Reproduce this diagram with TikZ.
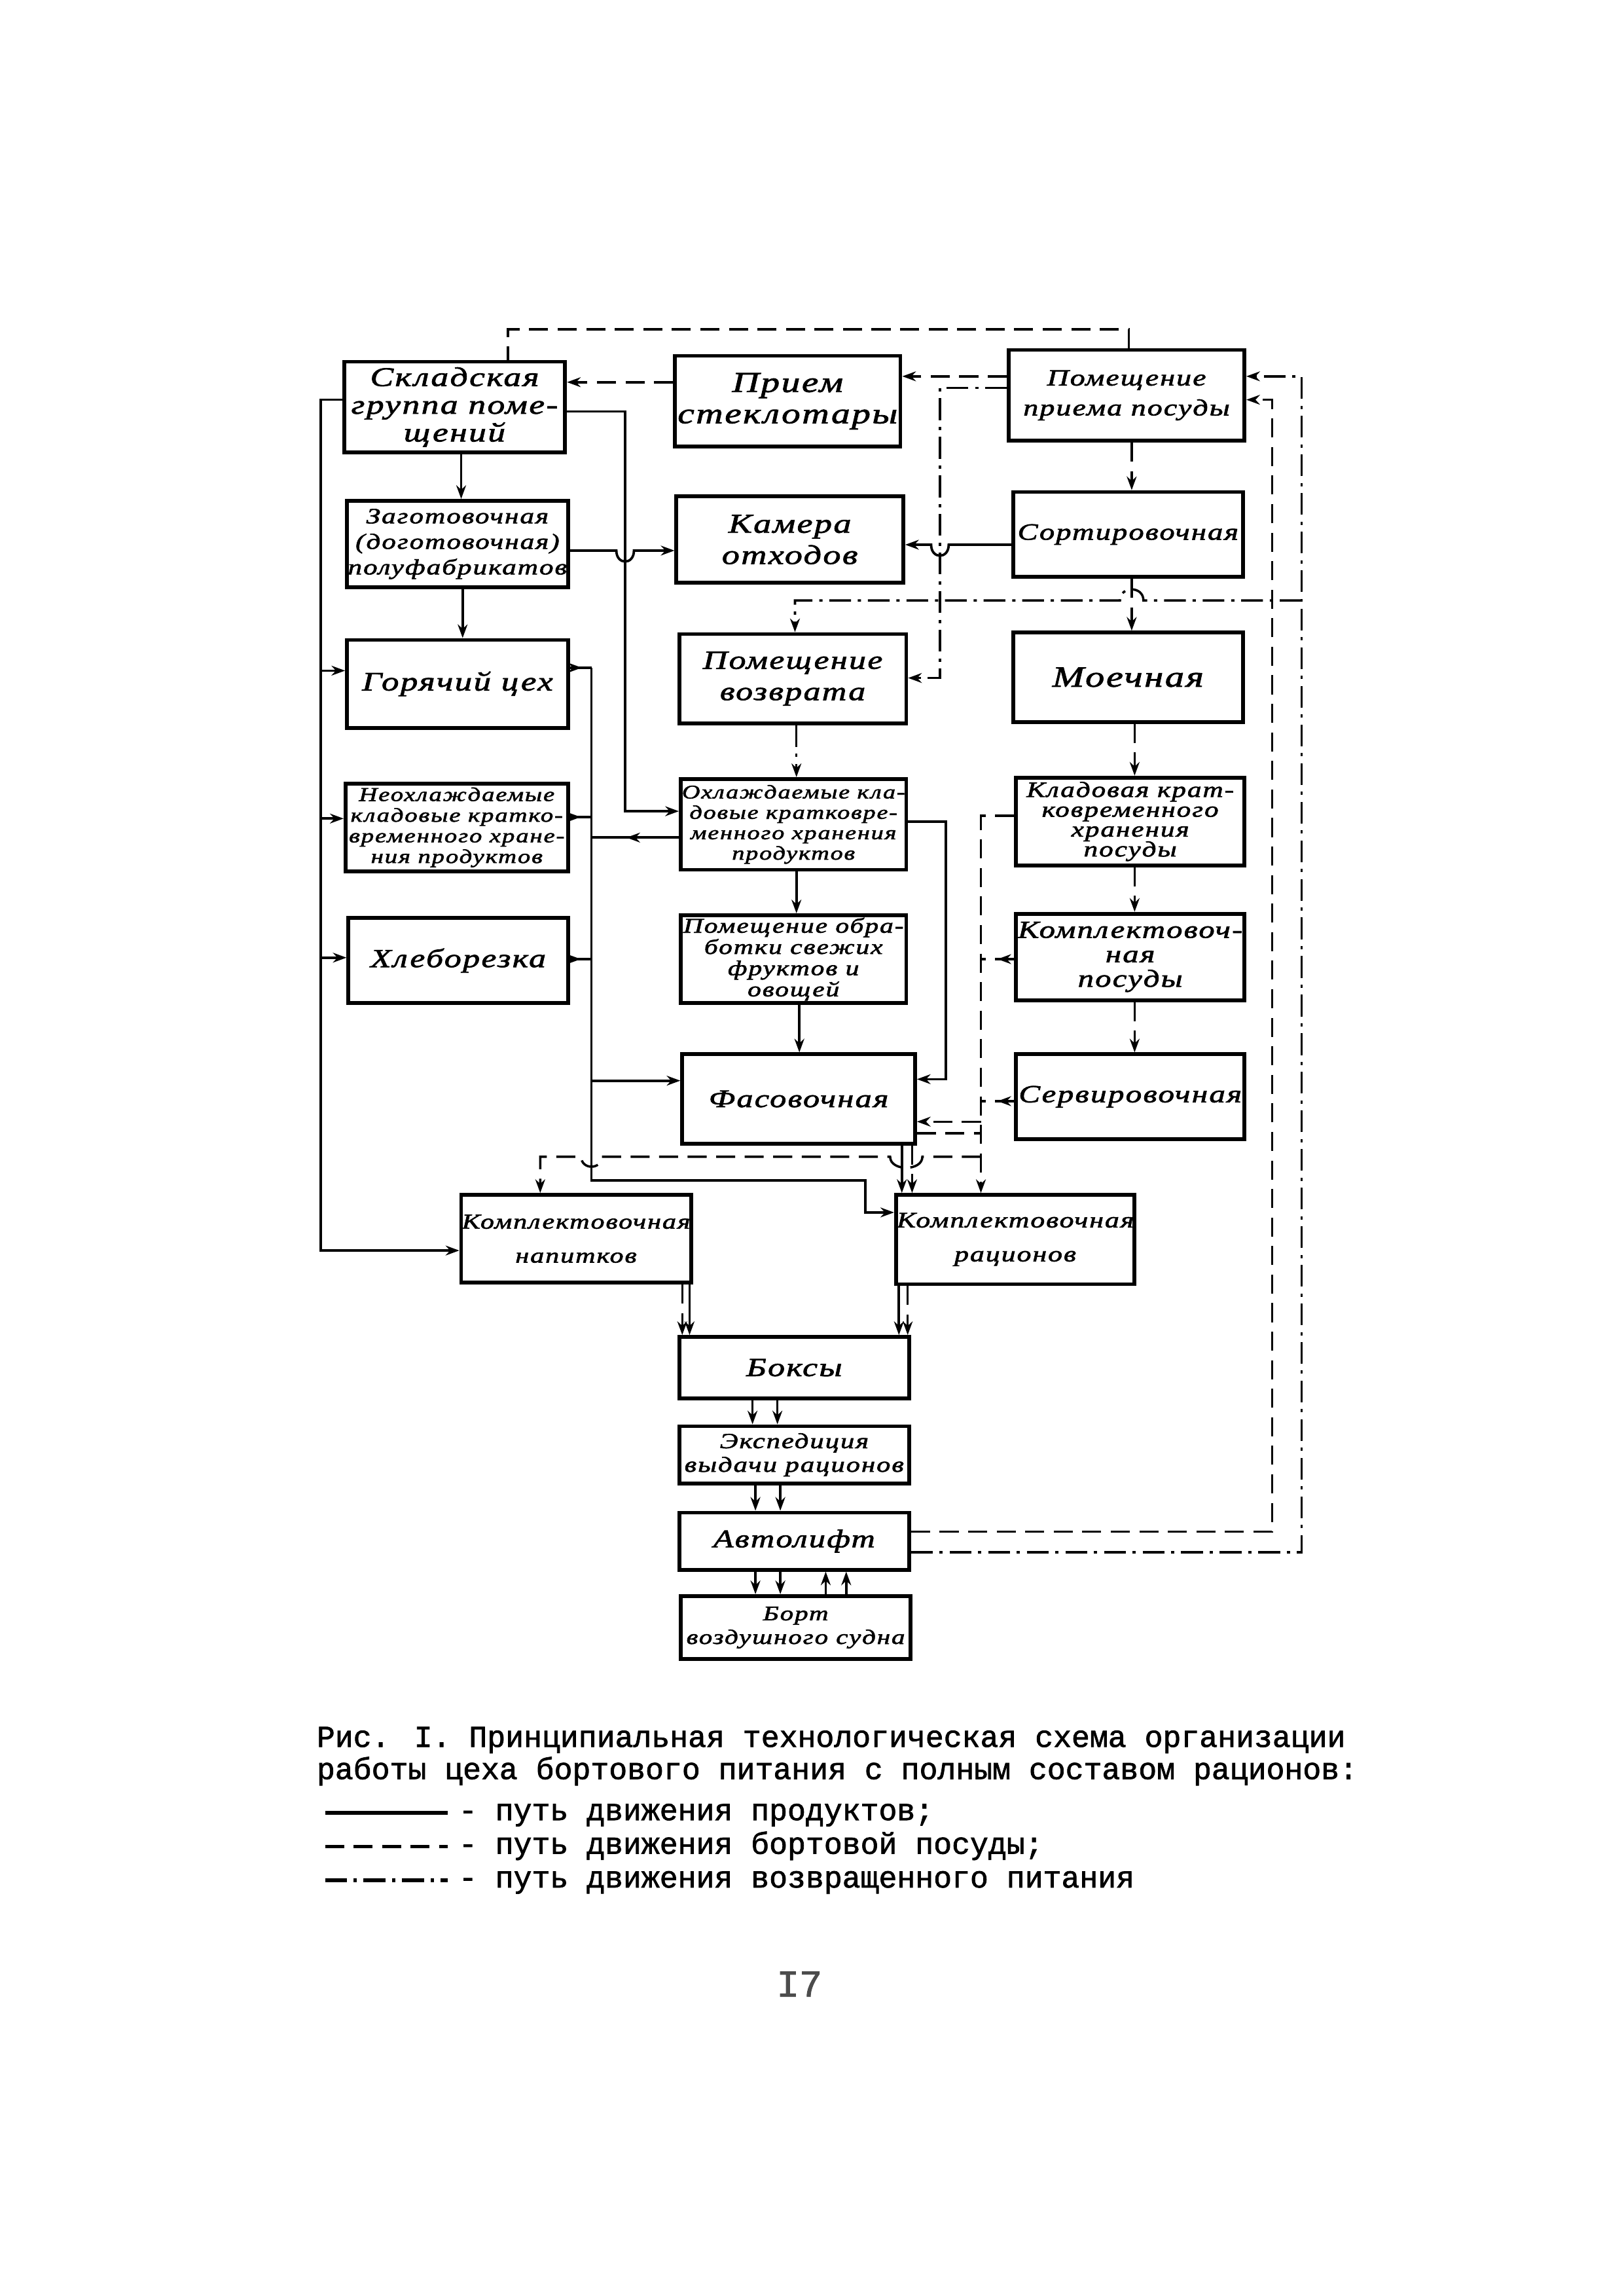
\documentclass[tikz,border=0pt]{standalone}
\usepackage{fontspec}
\usetikzlibrary{arrows.meta,decorations.markings}
\newfontfamily\hand[FakeStretch=1.3,LetterSpace=6,FakeBold=2]{Liberation Serif}
\newfontfamily\tw[FakeBold=1.6]{Liberation Mono}
\def\pxu{0.018936cm}
\tikzset{
  bx/.style={draw, line width=1.4pt, inner sep=0pt},
  prod/.style={line width=0.9pt},
  dsh/.style={line width=0.85pt, dash pattern=on 7pt off 3.5pt},
  ddot/.style={line width=0.85pt, dash pattern=on 8pt off 2.5pt on 1.2pt off 2.5pt},
  arw/.style={-{Stealth[length=5pt,width=3.6pt]}},
  ma/.style={postaction={decorate,decoration={markings,mark=at position #1 with {\arrow{Stealth[length=5pt,width=3.6pt]}}}}},
  capt/.style={anchor=base west, inner sep=0pt, font=\tw\fontsize{11.2}{12}\selectfont}
}
\newcommand{\flowbox}[8]{%
  \node[bx, minimum width={(#4-#2)*\pxu}, minimum height={(#5-#3)*\pxu}] (#1) at ({(#2+#4)/2},{(#3+#5)/2}) {};
  \node[inner sep=0pt, align=center, font=\hand\itshape\fontsize{#6}{#7}\selectfont] (#1t) at (#1.center) {#8};}
\begin{document}
\begin{tikzpicture}[x=0.018936cm, y=-0.018936cm]
\fill[white] (0,0) rectangle (1109,1568);
\useasboundingbox (0,0) rectangle (1109,1568);

% ---------- boxes ----------
\flowbox{skl}{235}{247}{386}{309}{9.9}{10.2}{Складская\\группа поме-\\щений}
\flowbox{zag}{237}{342}{388}{401}{8}{9.4}{Заготовочная\\(доготовочная)\\полуфабрикатов}
\flowbox{gor}{237}{437}{388}{497}{9.8}{12}{Горячий цех}
\flowbox{neo}{236}{535}{388}{595}{7.2}{7.6}{Неохлаждаемые\\кладовые кратко-\\временного хране-\\ния продуктов}
\flowbox{hle}{238}{627}{388}{685}{9.6}{12}{Хлеборезка}
\flowbox{pri}{461}{243}{615}{305}{10.6}{11.5}{Прием\\стеклотары}
\flowbox{kam}{462}{339}{617}{398}{10}{11.5}{Камера\\отходов}
\flowbox{vozv}{464}{433}{619}{494}{9.6}{11.5}{Помещение\\возврата}
\flowbox{ohl}{465}{532}{619}{594}{7.1}{7.5}{Охлаждаемые кла-\\довые кратковре-\\менного хранения\\продуктов}
\flowbox{obr}{465}{625}{619}{685}{7.7}{7.8}{Помещение обра-\\ботки свежих\\фруктов и\\овощей}
\flowbox{fas}{466}{720}{625}{781}{9.3}{12}{Фасовочная}
\flowbox{ppos}{689}{239}{850}{301}{8.5}{11}{Помещение\\приема посуды}
\flowbox{sort}{692}{336}{849}{394}{8.6}{12}{Сортировочная}
\flowbox{moech}{692}{432}{849}{493}{10.8}{12}{Моечная}
\flowbox{klad}{694}{531}{850}{591}{8}{7.3}{Кладовая крат-\\ковременного\\хранения\\посуды}
\flowbox{kpos}{694}{624}{850}{683}{9}{9}{Комплектовоч-\\ная\\посуды}
\flowbox{serv}{694}{720}{850}{778}{9.1}{12}{Сервировочная}
\flowbox{knap}{315}{816}{472}{876}{7.8}{12.5}{Комплектовочная\\напитков}
\flowbox{krac}{612}{816}{775}{877}{8.1}{12.5}{Комплектовочная\\рационов}
\flowbox{boxy}{464}{913}{621}{955}{9.6}{12}{Боксы}
\flowbox{eksp}{464}{974}{621}{1013}{7.9}{8.7}{Экспедиция\\выдачи рационов}
\flowbox{avto}{464}{1033}{621}{1072}{9.3}{12}{Автолифт}
\flowbox{bort}{465}{1090}{622}{1133}{7.6}{8.7}{Борт\\воздушного судна}

% ---------- solid: products ----------
\coordinate (Lx) at (219,273);
\draw[prod,arw] (skl.west|-Lx) -- (Lx) -- (Lx|-0,854) -- (knap.west|-0,854);
\draw[prod,arw] (Lx|-0,458) -- (gor.west|-0,458);
\draw[prod,arw] (Lx|-0,559) -- (neo.west|-0,559);
\draw[prod,arw] (Lx|-0,654) -- (hle.west|-0,654);

\coordinate (Mx) at (427,281);
\draw[prod,arw] (skl.east|-Mx) -- (Mx) -- (Mx|-0,554) -- (ohl.west|-0,554);
\draw[prod,arw] (zag.east|-0,376) -- (421,376) .. controls (421,386) and (433,386) .. (433,376) -- (kam.west|-0,376);
\draw[prod,arw] (skl.south-|315,0) -- (zag.north-|315,0);
\draw[prod,arw] (zag.south-|316,0) -- (gor.north-|316,0);

\coordinate (Cx) at (404,456);
\draw[prod,ma=0.55] (gor.east|-Cx) -- (Cx);
\draw[prod,arw] (Cx) -- (Cx|-0,806) -- (591,806) |- (krac.west|-0,828);
\draw[prod,ma=0.5] (neo.east|-0,558) -- (Cx|-0,558);
\draw[prod,ma=0.5] (hle.east|-0,655) -- (Cx|-0,655);
\draw[prod,ma=0.6] (ohl.west|-0,572) -- (Cx|-0,572);
\draw[prod,arw] (Cx|-0,738) -- (fas.west|-0,738);

\draw[prod,arw] (ohl.east|-0,561) -- (646,561) |- (fas.east|-0,737);
\draw[prod,arw] (ohl.south-|544,0) -- (obr.north-|544,0);
\draw[prod,arw] (obr.south-|546,0) -- (fas.north-|546,0);
\draw[prod,arw] (sort.west|-0,372) -- (648,372) .. controls (648,382) and (636,382) .. (636,372) -- (kam.east|-0,372);
\draw[prod,arw] (fas.south-|616,0) -- (krac.north-|616,0);
\draw[dsh,arw] (fas.south-|623,0) -- (krac.north-|623,0);

\draw[dsh,arw] (knap.south-|466,0) -- (boxy.north-|466,0);
\draw[prod,arw] (knap.south-|471,0) -- (boxy.north-|471,0);
\draw[prod,arw] (krac.south-|614,0) -- (boxy.north-|614,0);
\draw[dsh,arw] (krac.south-|620,0) -- (boxy.north-|620,0);
\draw[prod,arw] (boxy.south-|514,0) -- (eksp.north-|514,0);
\draw[dsh,arw] (boxy.south-|531,0) -- (eksp.north-|531,0);
\draw[prod,arw] (eksp.south-|516,0) -- (avto.north-|516,0);
\draw[dsh,arw] (eksp.south-|533,0) -- (avto.north-|533,0);
\draw[prod,arw] (avto.south-|516,0) -- (bort.north-|516,0);
\draw[dsh,arw] (avto.south-|533,0) -- (bort.north-|533,0);
\draw[prod,arw] (bort.north-|564,0) -- (avto.south-|564,0);
\draw[dsh,arw] (bort.north-|578,0) -- (avto.south-|578,0);

% ---------- dashed: dishware ----------
\draw[dsh] (ppos.north-|771,0) -- (771,225) -| (skl.north-|347,0);
\draw[dsh,arw] (pri.west|-0,261) -- (skl.east|-0,261);
\draw[dsh,arw] (ppos.west|-0,257) -- (pri.east|-0,257);
\draw[dsh,arw] (ppos.south-|773,0) -- (sort.north-|773,0);
\draw[dsh,arw] (sort.south-|773,0) -- (moech.north-|773,0);
\draw[dsh,arw] (moech.south-|775,0) -- (klad.north-|775,0);
\draw[dsh,arw] (klad.south-|775,0) -- (kpos.north-|775,0);
\draw[dsh,arw] (kpos.south-|775,0) -- (serv.north-|775,0);

\coordinate (Dx) at (670,557);
\draw[dsh,arw] (klad.west|-Dx) -- (Dx) -- (krac.north-|Dx);
\draw[dsh,ma=0.5] (kpos.west|-0,655) -- (Dx|-0,655);
\draw[dsh,ma=0.5] (serv.west|-0,752) -- (Dx|-0,752);
\draw[dsh,arw] (Dx|-0,766) -- (fas.east|-0,766);
\draw[dsh] (fas.east|-0,774) -- (Dx|-0,774);
\draw[dsh,arw] (Dx|-0,790) -- (630,790) .. controls (630,800) and (608,800) .. (608,790) -- (411,790) .. controls (411,799) and (397,799) .. (397,790) -- (369,790) -- (knap.north-|369,0);
\draw[dsh,arw] (avto.east|-0,1046) -- (869,1046) |- (ppos.east|-0,273);

% ---------- dash-dot: returned food ----------
\coordinate (Rx) at (889,410);
\draw[ddot,arw] (avto.east|-0,1060) -- (Rx|-0,1060) -- (Rx|-0,257) -- (ppos.east|-0,257);
\draw[ddot,arw] (Rx) -- (781,410) .. controls (781,400) and (765,400) .. (765,410) -- (543,410) -- (vozv.north-|543,0);
\draw[ddot,arw] (ppos.west|-0,265) -- (642,265) |- (vozv.east|-0,463);
\draw[ddot,arw] (vozv.south-|544,0) -- (ohl.north-|544,0);

% ---------- caption & legend ----------
\node[capt] (cap1) at (216,1193) {Рис. I. Принципиальная технологическая схема организации};
\node[capt] (cap2) at (216,1215) {работы цеха бортового питания с полным составом рационов:};
\coordinate (la1) at (222,1238); \coordinate (lb1) at (306,1238);
\coordinate (la2) at (222,1261); \coordinate (lb2) at (306,1261);
\coordinate (la3) at (222,1284); \coordinate (lb3) at (306,1284);
\draw[prod, line width=1.3pt] (la1) -- (lb1);
\draw[dsh, line width=1.3pt] (la2) -- (lb2);
\draw[ddot, line width=1.3pt] (la3) -- (lb3);
\node[capt] (lg1) at (313,1243) {- путь движения продуктов;};
\node[capt] (lg2) at (313,1266) {- путь движения бортовой посуды;};
\node[capt] (lg3) at (313,1289) {- путь движения возвращенного питания};
\node[font=\tw\fontsize{14}{14}\selectfont, text=black!70] (pg) at (546,1355) {I7};
\end{tikzpicture}
\end{document}
